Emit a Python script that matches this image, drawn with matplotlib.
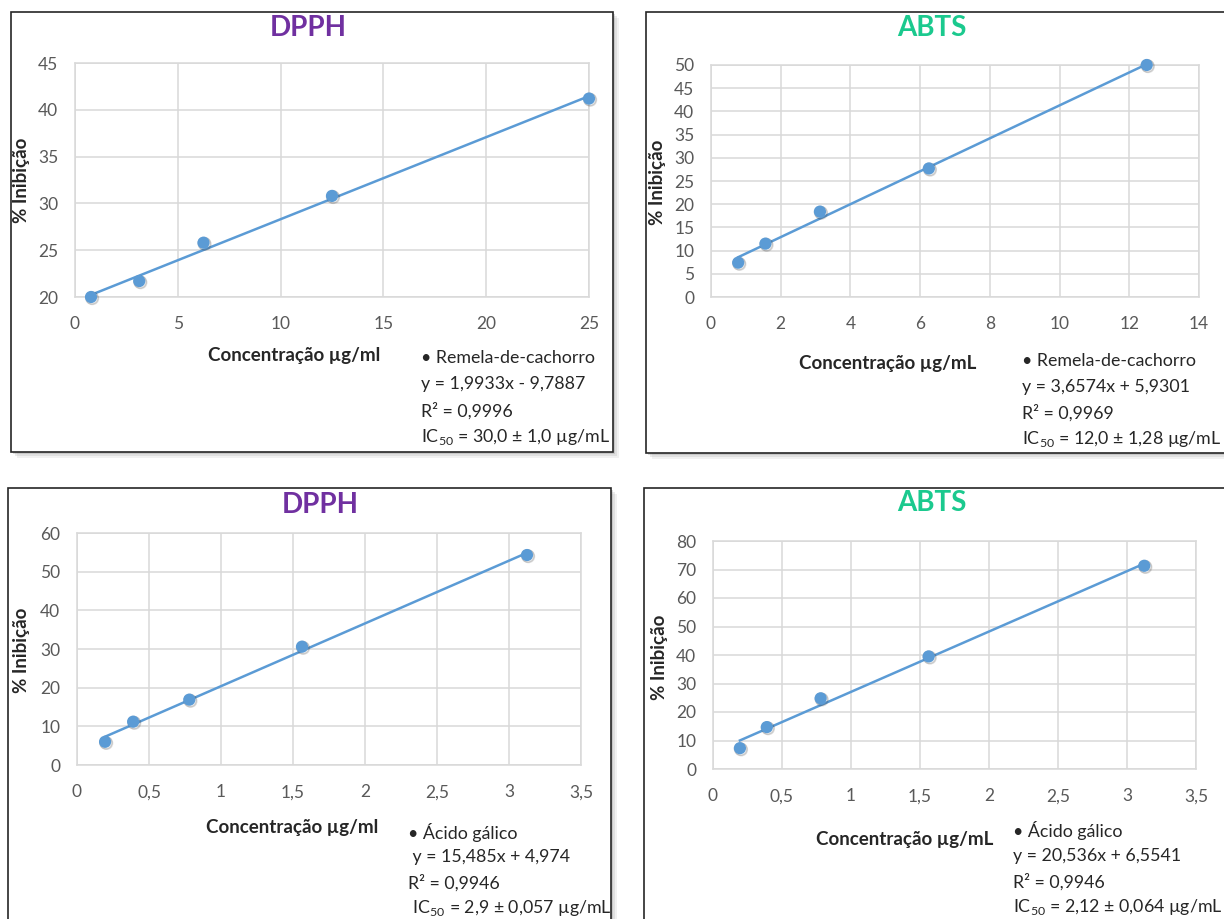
import numpy as np
import matplotlib
matplotlib.use('Agg')
import matplotlib.pyplot as plt
import matplotlib.patheffects as pe
from matplotlib.patches import Rectangle
from matplotlib.ticker import FuncFormatter

plt.rcParams['font.family'] = ['Lato', 'DejaVu Sans']
plt.rcParams['mathtext.fontset'] = 'custom'
plt.rcParams['mathtext.rm'] = 'Lato'

W, H = 1224, 919

# data
conc_remela_dpph = [0.78, 3.125, 6.25, 12.5, 25.0]
inib_remela_dpph = [20.0, 21.7, 25.8, 30.8, 41.2]
conc_remela_abts = [0.78, 1.5625, 3.125, 6.25, 12.5]
inib_remela_abts = [7.4, 11.5, 18.4, 27.7, 50.0]
conc_galico = [0.195, 0.39, 0.78, 1.5625, 3.125]
inib_galico_dpph = [6.0, 11.2, 16.9, 30.6, 54.3]
inib_galico_abts = [7.3, 14.7, 24.8, 39.5, 71.3]

xticks_remela_dpph = [0, 5, 10, 15, 20, 25]
yticks_remela_dpph = [20, 25, 30, 35, 40, 45]
xticks_remela_abts = [0, 2, 4, 6, 8, 10, 12, 14]
yticks_remela_abts = [0, 5, 10, 15, 20, 25, 30, 35, 40, 45, 50]
xticks_galico = [0, 0.5, 1, 1.5, 2, 2.5, 3, 3.5]
yticks_galico_dpph = [0, 10, 20, 30, 40, 50, 60]
yticks_galico_abts = [0, 10, 20, 30, 40, 50, 60, 70, 80]

notes_remela_dpph = ['• Remela-de-cachorro', 'y = 1,9933x - 9,7887',
                     'R² = 0,9996', r'IC$_{\mathregular{50}}$ = 30,0 ± 1,0 µg/mL']
notes_remela_abts = ['• Remela-de-cachorro', 'y = 3,6574x + 5,9301',
                     'R² = 0,9969', r'IC$_{\mathregular{50}}$ = 12,0 ± 1,28 µg/mL']
notes_galico_dpph = ['• Ácido gálico', ' y = 15,485x + 4,974',
                     'R² = 0,9946', r' IC$_{\mathregular{50}}$ = 2,9 ± 0,057 µg/mL']
notes_galico_abts = ['• Ácido gálico', 'y = 20,536x + 6,5541',
                     'R² = 0,9946', r'IC$_{\mathregular{50}}$ = 2,12 ± 0,064 µg/mL']

BLUE = '#5B9BD5'
GRID = '#D9D9D9'
PURPLE = '#7030A0'
GREEN = '#1BC98E'


def fx(x):
    return x / W


def fy(y):
    return 1 - y / H


fig = plt.figure(figsize=(W / 100, H / 100), dpi=100)
fig.patch.set_facecolor('white')


def frame(x0, y0, x1, y1):
    # chart box with a soft drop shadow
    for k, a in [(6, 0.10), (4, 0.15), (2, 0.25)]:
        fig.patches.append(Rectangle((fx(x0 + k), fy(y1 + k)), fx(x1 - x0), (y1 - y0) / H,
                                     transform=fig.transFigure, facecolor='#7f7f7f',
                                     edgecolor='none', alpha=a, zorder=0))
    fig.patches.append(Rectangle((fx(x0), fy(y1)), fx(x1 - x0), (y1 - y0) / H,
                                 transform=fig.transFigure, facecolor='white',
                                 edgecolor='#262626', lw=1.2, zorder=1))


def panel(box, xs, ys, xticks, yticks, title, tcolor, title_xy, xlabel, xlabel_xy,
          ylabel_xy, notes, notes_xy, step):
    x0, y0, x1, y1 = box
    ax = fig.add_axes([fx(x0), fy(y1), fx(x1 - x0), (y1 - y0) / H], zorder=3)
    ax.set_facecolor('none')
    ax.set_xlim(xticks[0], xticks[-1])
    ax.set_ylim(yticks[0], yticks[-1])
    ax.set_xticks(xticks)
    ax.set_yticks(yticks)
    comma = FuncFormatter(lambda v, p: ('%g' % v).replace('.', ','))
    ax.xaxis.set_major_formatter(comma)
    ax.yaxis.set_major_formatter(comma)
    ax.tick_params(length=0, labelsize=12.5, labelcolor='#595959')
    ax.tick_params(axis='x', pad=14)
    ax.tick_params(axis='y', pad=12)
    ax.grid(True, color=GRID, lw=1.1)
    ax.set_axisbelow(True)
    for s in ax.spines.values():
        s.set_color(GRID)
        s.set_linewidth(1.1)

    k, b = np.polyfit(xs, ys, 1)
    xl = np.array([min(xs), max(xs)])
    ax.plot(xl, k * xl + b, color=BLUE, lw=1.8, zorder=3)
    ax.plot(xs, ys, 'o', color=BLUE, ms=8.8, mec='none', zorder=4, clip_on=False,
            path_effects=[pe.SimpleLineShadow(offset=(1.0, -1.0), shadow_color='#444444', alpha=0.18),
                          pe.SimpleLineShadow(offset=(0.5, -0.6), shadow_color='#444444', alpha=0.2),
                          pe.Normal()])

    fig.text(fx(title_xy[0]), fy(title_xy[1]), title, color=tcolor, fontsize=20,
             fontweight='bold', ha='center', va='center')
    fig.text(fx(xlabel_xy[0]), fy(xlabel_xy[1]), xlabel, fontsize=13.5,
             fontweight='bold', ha='center', va='center', color='#262626')
    fig.text(fx(ylabel_xy[0]), fy(ylabel_xy[1]), '% Inibição', fontsize=13.5,
             fontweight='bold', ha='center', va='center', rotation=90, color='#262626')
    for i, line in enumerate(notes):
        fig.text(fx(notes_xy[0]), fy(notes_xy[1] + i * step), line, fontsize=12.8,
                 ha='left', va='center', color='#262626')
    return ax


frame(11, 12, 613, 452)
frame(646, 12, 1240, 453)
frame(8, 488, 611, 940)
frame(644, 488, 1240, 940)

panel((75, 63, 589, 297), conc_remela_dpph, inib_remela_dpph,
      xticks_remela_dpph, yticks_remela_dpph, 'DPPH', PURPLE, (308, 28),
      'Concentração µg/ml', (294, 355), (22, 180),
      notes_remela_dpph, (421, 358), 26.3)

panel((711, 65, 1199, 297), conc_remela_abts, inib_remela_abts,
      xticks_remela_abts, yticks_remela_abts, 'ABTS', GREEN, (932, 28),
      'Concentração µg/mL', (888, 363), (657, 182),
      notes_remela_abts, (1022, 361), 26.0)

panel((77, 533, 581, 765), conc_galico, inib_galico_dpph,
      xticks_galico, yticks_galico_dpph, 'DPPH', PURPLE, (320, 505),
      'Concentração µg/ml', (292, 828), (22, 650),
      notes_galico_dpph, (408, 832), 25.3)

panel((713, 541, 1196, 769), conc_galico, inib_galico_abts,
      xticks_galico, yticks_galico_abts, 'ABTS', GREEN, (932, 503),
      'Concentração µg/mL', (905, 840), (660, 657),
      notes_galico_abts, (1013, 831), 25.3)

fig.savefig('out.png', dpi=100, facecolor='white')
